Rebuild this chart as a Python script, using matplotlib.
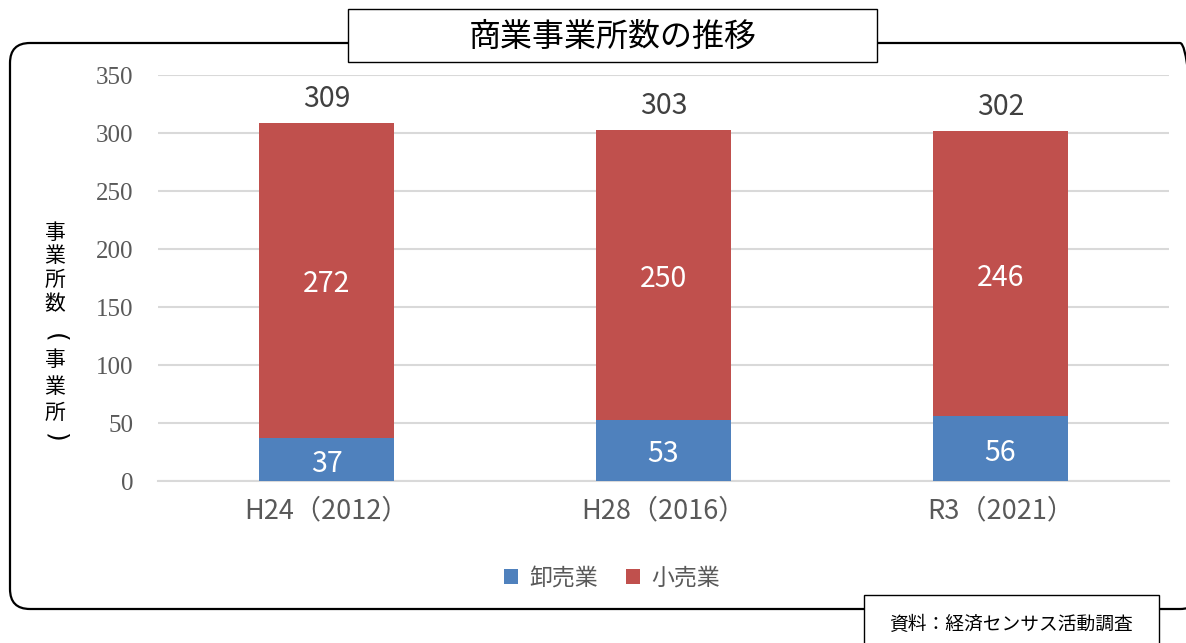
import matplotlib
matplotlib.use("Agg")
import matplotlib.pyplot as plt
from matplotlib.patches import FancyBboxPatch, Rectangle, Patch
import numpy as np

plt.rcParams['font.family'] = ['Noto Sans CJK JP', 'DejaVu Sans']

categories = ["H24（2012）", "H28（2016）", "R3（2021）"]
wholesale = [37, 53, 56]
retail = [272, 250, 246]
series_names = ["卸売業", "小売業"]
yticks = [0, 50, 100, 150, 200, 250, 300, 350]
title = "商業事業所数の推移"
ylabel = "事業所数（事業所）"
source = "資料：経済センサス活動調査"

BLUE = "#4F81BD"
RED = "#C0504D"
W, H = 1186, 643
fig = plt.figure(figsize=(W / 100, H / 100), dpi=100)
fig.patch.set_facecolor("white")

# rounded outer frame (pixel-based via inches)
frame = FancyBboxPatch((10 / 100, (H - 609) / 100), (1200 - 10) / 100, (609 - 43) / 100,
                       boxstyle="round,pad=0,rounding_size=0.2",
                       transform=fig.dpi_scale_trans, fill=False,
                       edgecolor="black", linewidth=1.6, zorder=1)
fig.patches.append(frame)

ax = fig.add_axes([158 / W, 1 - 481 / H, (1169 - 158) / W, (481 - 75) / H])
ax.set_facecolor("none")
x = np.arange(len(categories))
bw = 0.4
totals = [a + b for a, b in zip(wholesale, retail)]
ax.bar(x, wholesale, bw, color=BLUE, zorder=3, label=series_names[0])
ax.bar(x, retail, bw, bottom=wholesale, color=RED, zorder=3, label=series_names[1])

for i in range(len(categories)):
    ax.annotate(str(wholesale[i]), (x[i], wholesale[i] / 2), xytext=(0, -3),
                textcoords="offset points", ha="center", va="center",
                color="white", fontsize=20.5)
    ax.annotate(str(retail[i]), (x[i], wholesale[i] + retail[i] / 2), xytext=(0, -3),
                textcoords="offset points", ha="center", va="center",
                color="white", fontsize=20.5)
    ax.annotate(str(totals[i]), (x[i], totals[i]), xytext=(0, 6), textcoords="offset points",
                ha="center", va="bottom", color="#404040", fontsize=20.5)

ax.set_xlim(-0.5, len(categories) - 0.5)
ax.set_ylim(0, 350)
ax.set_yticks(yticks)
ax.set_yticklabels([str(v) for v in yticks], fontfamily="Liberation Serif",
                   fontsize=18, color="#595959")
ax.set_xticks(x)
ax.set_xticklabels(categories, fontsize=19.5, color="#595959")
ax.tick_params(axis="y", length=0, pad=18)
ax.tick_params(axis="x", length=0, pad=12)
ax.yaxis.grid(True, color="#D9D9D9", linewidth=1.5, zorder=0)
ax.set_axisbelow(True)
for s in ["top", "right", "left"]:
    ax.spines[s].set_visible(False)
ax.spines["bottom"].set_color("#D9D9D9")
ax.spines["bottom"].set_linewidth(1.5)

# vertical y label, one character at a time (parentheses turned for vertical writing)
ylab_chars = ["事", "業", "所", "数", "(", "事", "業", "所", ")"]
ylab_y = [233, 256, 280, 304, 338, 360, 387, 413, 438]
for ch, yy in zip(ylab_chars, ylab_y):
    paren = ch in "()"
    fig.text(55 / W, 1 - yy / H, ch, ha="center", va="center",
             fontsize=18 if paren else 15, color="black",
             rotation=-90 if paren else 0,
             family="DejaVu Sans" if paren else None)

# legend
handles = [Patch(facecolor=BLUE, edgecolor="none"), Patch(facecolor=RED, edgecolor="none")]
leg = fig.legend(handles, series_names, loc="center", bbox_to_anchor=(612 / W, 1 - 578 / H),
                 ncol=2, frameon=False, fontsize=16.5, handlelength=0.6, handleheight=0.6,
                 handletextpad=0.5, columnspacing=1.2)
for t in leg.get_texts():
    t.set_color("#595959")

# title box
tb = Rectangle((348 / 100, (H - 62) / 100), (877 - 348) / 100, (62 - 9) / 100,
               transform=fig.dpi_scale_trans, facecolor="white", edgecolor="black",
               linewidth=1.0, zorder=5)
fig.patches.append(tb)
fig.text(613 / W, 1 - 37 / H, title, ha="center", va="center", fontsize=23,
         color="black", zorder=6)

# source box
sb = Rectangle((864 / 100, -0.1), (1159 - 864) / 100, (H - 595) / 100 + 0.1,
               transform=fig.dpi_scale_trans, facecolor="white", edgecolor="black",
               linewidth=1.0, zorder=5)
fig.patches.append(sb)
fig.text(1011 / W, 1 - 624 / H, source, ha="center", va="center", fontsize=13.5,
         color="black", zorder=6)

fig.savefig("out.png", dpi=100, facecolor="white")
